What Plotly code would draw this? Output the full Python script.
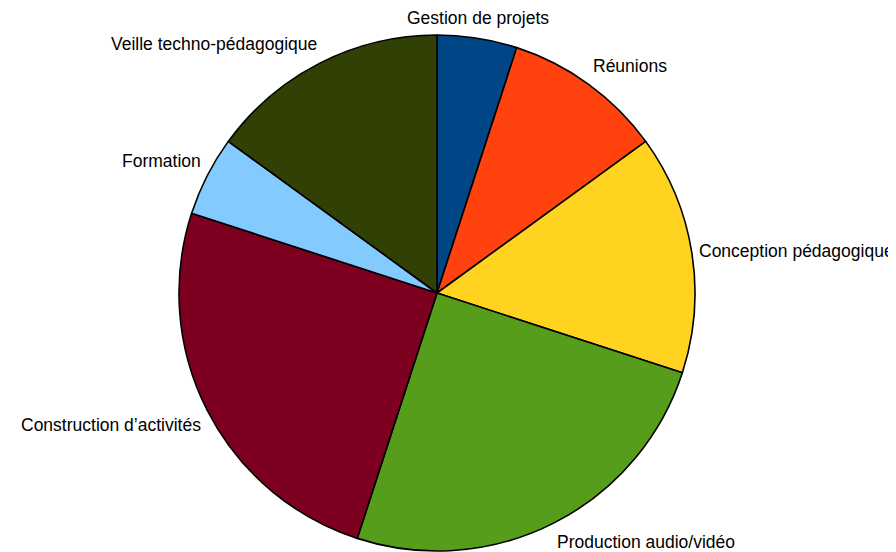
import math
import plotly.graph_objects as go

labels = ["Gestion de projets", "Réunions", "Conception pédagogique",
          "Production audio/vidéo", "Construction d’activités", "Formation",
          "Veille techno-pédagogique"]
values = [5, 10, 15, 25, 25, 5, 15]
colors = ["#004586", "#ff420e", "#ffd320", "#579d1c", "#7e0021", "#83caff", "#314004"]

W, H = 896, 552
cx, cy, r = 429, 285, 258   # pie centre / radius in figure pixels
lab_rx, lab_ry = 265, 268    # label anchor radii

fig = go.Figure(go.Pie(
    labels=labels, values=values, sort=False, direction="clockwise", rotation=0,
    marker=dict(colors=colors, line=dict(color="black", width=1.6)),
    textinfo="none",
    showlegend=False, hoverinfo="label+percent",
    domain=dict(x=[(cx - r) / W, (cx + r) / W], y=[1 - (cy + r) / H, 1 - (cy - r) / H]),
))

total = sum(values)
cum = 0
for lab, v in zip(labels, values):
    mid = (cum + v / 2) / total * 2 * math.pi
    cum += v
    s, c = math.sin(mid), math.cos(mid)
    px = cx + lab_rx * s
    py = cy - lab_ry * c
    xa = "center" if abs(s) < 0.3 else ("left" if s > 0 else "right")
    ya = "middle" if abs(c) < 0.3 else ("bottom" if c > 0 else "top")
    fig.add_annotation(x=px / W, y=1 - py / H, xref="paper", yref="paper",
                       text=lab, showarrow=False, xanchor=xa, yanchor=ya,
                       borderpad=0, borderwidth=0,
                       font=dict(family="Liberation Sans, Arial, sans-serif", size=17.5, color="black"))

fig.update_layout(width=W, height=H, margin=dict(l=0, r=0, t=0, b=0),
                  paper_bgcolor="white", plot_bgcolor="white")
fig.write_html("out.html")
